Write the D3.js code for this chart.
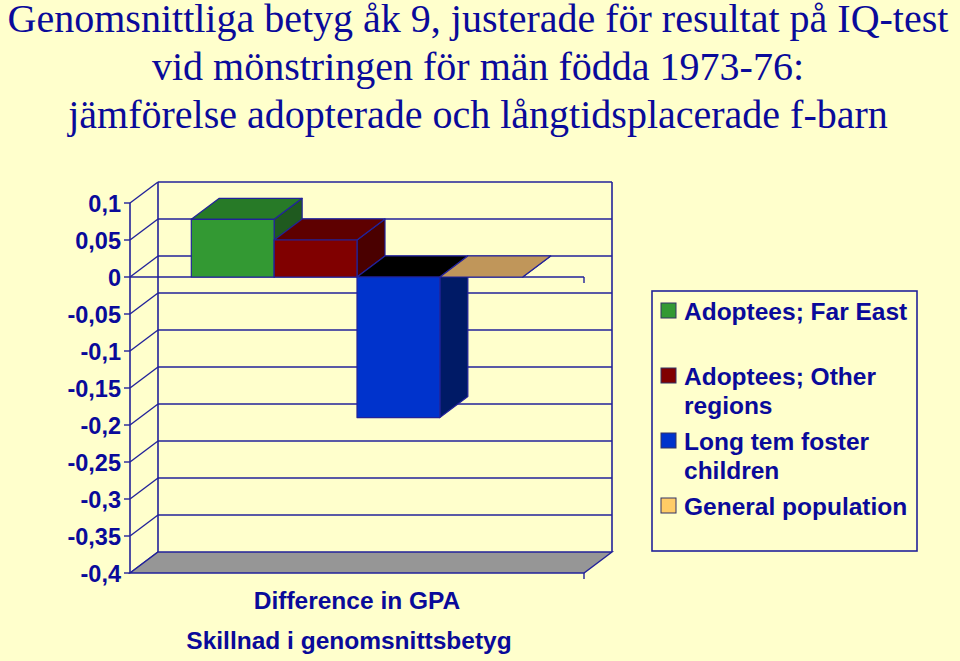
<!DOCTYPE html>
<html>
<head>
<meta charset="utf-8">
<script src="https://cdn.jsdelivr.net/npm/d3@7"></script>
<style>
  html, body { margin: 0; padding: 0; background: #ffffcc; }
  svg { display: block; }
</style>
</head>
<body>
<div id="canvas"></div>
<script>
// chart data
const titleLines = [
    "Genomsnittliga betyg åk 9, justerade för resultat på IQ-test",
    "vid mönstringen för män födda 1973-76:",
    "jämförelse adopterade och långtidsplacerade f-barn"
];
const series = ["Adoptees; Far East", "Adoptees; Other regions", "Long tem foster children", "General population"];
const values = [0.078, 0.05, -0.19, 0];
const legendLines = [["Adoptees; Far East"], ["Adoptees; Other", "regions"], ["Long tem foster", "children"], ["General population"]];
const yTicks = [0.1, 0.05, 0, -0.05, -0.1, -0.15, -0.2, -0.25, -0.3, -0.35, -0.4];
const xLabels = ["Difference in GPA", "Skillnad i genomsnittsbetyg"];

// colours: front, top, side
const frontColors = ["#339933", "#800000", "#0033cc", "#c0965a"];
const topColors = ["#277a27", "#5e0000", "#000000", "#c0965a"];
const sideColors = ["#1f5a1f", "#4a0000", "#001a66", "#9a7440"];
const legendColors = ["#339933", "#800000", "#0033cc", "#ffcc66"];

const width = 960, height = 661;
const navy = "#0a0a9a";
const lineCol = "#22229a";
const sans = "'Liberation Sans', Arial, sans-serif";
const dx = 28, dy = -21;   // depth offset of the 3d box

const svg = d3.select("#canvas").append("svg")
    .attr("width", width)
    .attr("height", height);

svg.append("rect").attr("width", width).attr("height", height).attr("fill", "#ffffcc");

// title
const titleYs = [32, 80, 128];
titleLines.forEach((t, i) => {
    svg.append("text")
        .attr("x", 478)
        .attr("y", titleYs[i])
        .attr("text-anchor", "middle")
        .attr("font-family", "'Liberation Serif', 'Times New Roman', serif")
        .attr("font-size", 40)
        .attr("fill", navy)
        .text(t);
});

const y = d3.scaleLinear().domain([-0.4, 0.1]).range([573, 203]);
const x = d3.scaleBand().domain(series).range([130, 584]).paddingInner(0).paddingOuter(0.74);
const x0 = 130, x1 = 584;

const fmt = v => d3.format(".2~f")(v).replace(".", ",").replace("\u2212", "-");

// back wall gridlines
yTicks.forEach(v => {
    if (v === -0.4) return;
    svg.append("line")
        .attr("x1", x0 + dx).attr("x2", x1 + dx)
        .attr("y1", y(v) + dy).attr("y2", y(v) + dy)
        .attr("stroke", lineCol).attr("stroke-width", 1.6);
});
// back wall edges
svg.append("line")
    .attr("x1", x0 + dx).attr("x2", x0 + dx)
    .attr("y1", y(0.1) + dy).attr("y2", y(-0.4) + dy)
    .attr("stroke", lineCol).attr("stroke-width", 1.6);
svg.append("line")
    .attr("x1", x1 + dx).attr("x2", x1 + dx)
    .attr("y1", y(0.1) + dy).attr("y2", y(-0.4) + dy)
    .attr("stroke", lineCol).attr("stroke-width", 1.6);

// left wall diagonals
yTicks.forEach(v => {
    svg.append("line")
        .attr("x1", x0).attr("x2", x0 + dx)
        .attr("y1", y(v)).attr("y2", y(v) + dy)
        .attr("stroke", lineCol).attr("stroke-width", 1.4);
});

// floor
svg.append("polygon")
    .attr("points", [[x0, y(-0.4)], [x1, y(-0.4)], [x1 + dx, y(-0.4) + dy], [x0 + dx, y(-0.4) + dy]].join(" "))
    .attr("fill", "#969696")
    .attr("stroke", lineCol).attr("stroke-width", 1.4);
svg.append("line")
    .attr("x1", x1).attr("x2", x1)
    .attr("y1", y(-0.4)).attr("y2", y(-0.4) + 6)
    .attr("stroke", lineCol).attr("stroke-width", 1.4);

// front axis
svg.append("line")
    .attr("x1", x0).attr("x2", x0)
    .attr("y1", y(0.1)).attr("y2", y(-0.4))
    .attr("stroke", lineCol).attr("stroke-width", 1.6);
yTicks.forEach(v => {
    svg.append("line")
        .attr("x1", x0 - 6).attr("x2", x0)
        .attr("y1", y(v)).attr("y2", y(v))
        .attr("stroke", lineCol).attr("stroke-width", 1.4);
    svg.append("text")
        .attr("x", 121)
        .attr("y", y(v) + 8.5)
        .attr("text-anchor", "end")
        .attr("font-family", sans)
        .attr("font-weight", "bold")
        .attr("font-size", 23.5)
        .attr("fill", navy)
        .text(fmt(v));
});

// zero level front edge
svg.append("line")
    .attr("x1", x0).attr("x2", x1)
    .attr("y1", y(0)).attr("y2", y(0))
    .attr("stroke", lineCol).attr("stroke-width", 1.6);
svg.append("line")
    .attr("x1", x1).attr("x2", x1)
    .attr("y1", y(0)).attr("y2", y(0) + 6)
    .attr("stroke", lineCol).attr("stroke-width", 1.4);

// bars
series.forEach((s, i) => {
    const bx0 = x(s), bx1 = x(s) + x.bandwidth();
    const yTop = y(Math.max(0, values[i]));
    const yBot = y(Math.min(0, values[i]));
    const g = svg.append("g")
        .attr("stroke", lineCol)
        .attr("stroke-width", 1.2)
        .attr("stroke-linejoin", "round");
    // side
    g.append("polygon")
        .attr("points", [[bx1, yTop], [bx1 + dx, yTop + dy], [bx1 + dx, yBot + dy], [bx1, yBot]].join(" "))
        .attr("fill", sideColors[i]);
    // top
    g.append("polygon")
        .attr("points", [[bx0, yTop], [bx1, yTop], [bx1 + dx, yTop + dy], [bx0 + dx, yTop + dy]].join(" "))
        .attr("fill", topColors[i]);
    // front
    if (yBot > yTop) {
        g.append("rect")
            .attr("x", bx0).attr("y", yTop)
            .attr("width", bx1 - bx0).attr("height", yBot - yTop)
            .attr("fill", frontColors[i]);
    }
});

// x axis labels
const xLabelYs = [609, 649];
const xLabelXs = [357, 349];
xLabels.forEach((t, i) => {
    svg.append("text")
        .attr("x", xLabelXs[i])
        .attr("y", xLabelYs[i])
        .attr("text-anchor", "middle")
        .attr("font-family", sans)
        .attr("font-weight", "bold")
        .attr("font-size", 24.5)
        .attr("fill", navy)
        .text(t);
});

// legend
svg.append("rect")
    .attr("x", 652).attr("y", 291)
    .attr("width", 265).attr("height", 260)
    .attr("fill", "#ffffcc")
    .attr("stroke", lineCol).attr("stroke-width", 1.6);

const legendTops = [303, 368, 433, 498];
legendLines.forEach((lines, i) => {
    svg.append("rect")
        .attr("x", 661).attr("y", legendTops[i])
        .attr("width", 15).attr("height", 15)
        .attr("fill", legendColors[i])
        .attr("stroke", "#333366").attr("stroke-width", 1);
    lines.forEach((t, j) => {
        svg.append("text")
            .attr("x", 684)
            .attr("y", legendTops[i] + 17 + j * 29)
            .attr("font-family", sans)
            .attr("font-weight", "bold")
            .attr("font-size", 24.5)
            .attr("fill", navy)
            .text(t);
    });
});
</script>
</body>
</html>
